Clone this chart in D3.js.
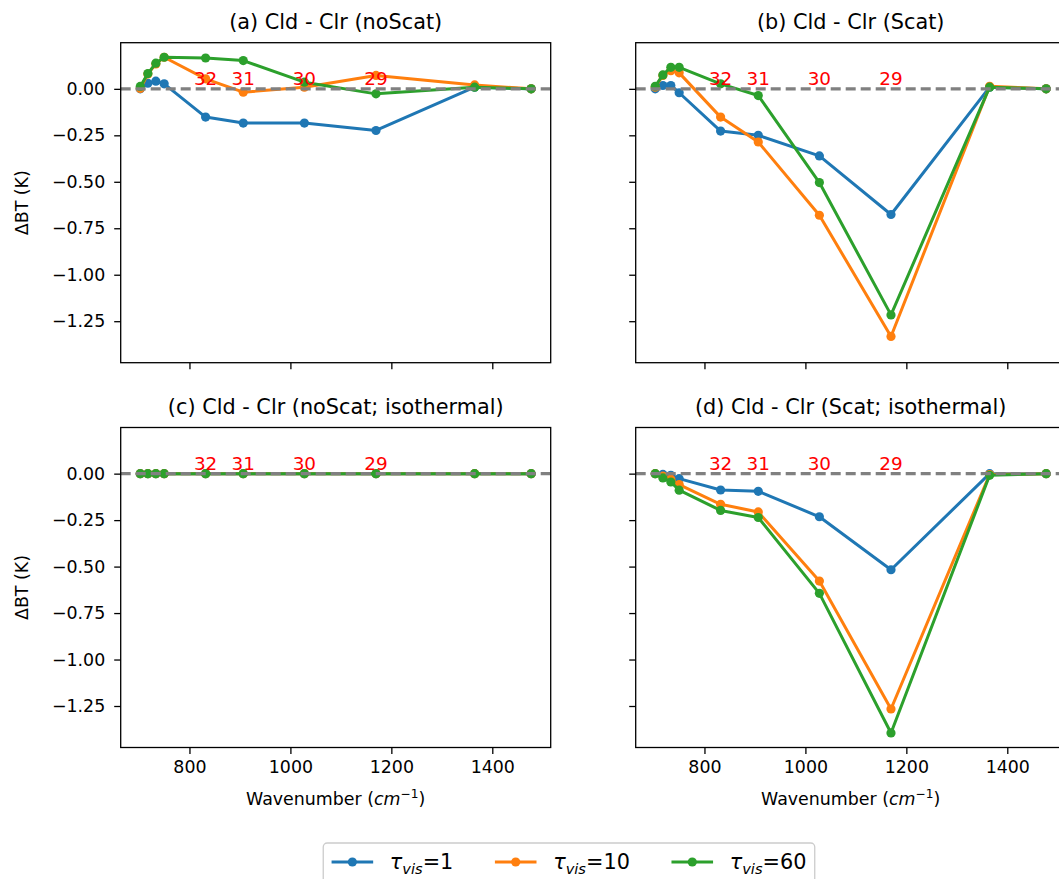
<!DOCTYPE html>
<html>
<head>
<meta charset="utf-8">
<script src="https://cdn.jsdelivr.net/npm/d3@7"></script>
<style>
body { margin: 0; background: #fff; }
text { font-family: "DejaVu Sans", sans-serif; }
</style>
</head>
<body>
<script>
// MODIS band centres (cm-1), bands 36..27
var wavenumber = [702.5, 717.6, 733.4, 749.9, 832.0, 906.6, 1027.7, 1169.6, 1365.0, 1477.0];
var bandNames = ["32", "31", "30", "29"];
var bandWavenumber = [832.0, 906.6, 1027.7, 1169.6];
var tauLabels = ["1", "10", "60"];
var colors = ["#1f77b4", "#ff7f0e", "#2ca02c"];
var titles = ["(a) Cld - Clr (noScat)", "(b) Cld - Clr (Scat)",
              "(c) Cld - Clr (noScat; isothermal)", "(d) Cld - Clr (Scat; isothermal)"];
var yTicks = [0, -0.25, -0.5, -0.75, -1.0, -1.25];
var xTicks = [800, 1000, 1200, 1400];

// delta BT (K) per panel, tau_vis = 1, 10, 60
var a_tau1  = [0.000, 0.030, 0.041, 0.027, -0.152, -0.184, -0.184, -0.224, 0.009, 0.000];
var a_tau10 = [0.002, 0.080, 0.134, 0.170, 0.054, -0.018, 0.009, 0.072, 0.021, 0.000];
var a_tau60 = [0.013, 0.082, 0.138, 0.170, 0.166, 0.152, 0.036, -0.027, 0.009, 0.000];

var b_tau1  = [0.000, 0.018, 0.018, -0.021, -0.227, -0.250, -0.361, -0.676, 0.009, 0.000];
var b_tau10 = [0.009, 0.072, 0.098, 0.086, -0.152, -0.286, -0.680, -1.332, 0.014, 0.000];
var b_tau60 = [0.014, 0.075, 0.116, 0.116, 0.027, -0.036, -0.504, -1.216, 0.009, 0.000];

var c_tau1  = [0, 0, 0, 0, 0, 0, 0, 0, 0, 0];
var c_tau10 = [0, 0, 0, 0, 0, 0, 0, 0, 0, 0];
var c_tau60 = [0, 0, 0, 0, 0, 0, 0, 0, 0, 0];

var d_tau1  = [0.000, -0.004, -0.009, -0.027, -0.088, -0.095, -0.232, -0.517, 0.000, 0.000];
var d_tau10 = [0.000, -0.013, -0.030, -0.059, -0.165, -0.206, -0.578, -1.266, -0.005, 0.000];
var d_tau60 = [0.000, -0.023, -0.045, -0.089, -0.198, -0.236, -0.644, -1.395, -0.009, 0.000];

var panelSeries = [[a_tau1, a_tau10, a_tau60], [b_tau1, b_tau10, b_tau60],
                   [c_tau1, c_tau10, c_tau60], [d_tau1, d_tau10, d_tau60]];

var W = 1059, H = 879;
var pw = 430, ph = 320;
var lefts = [120.7, 635.7], tops = [42.7, 427.5];
var fs = 17.4;

var svg = d3.select("body").append("svg")
    .attr("width", W)
    .attr("height", H);

// shared axes limits, matplotlib style 5% margins
var xExt = d3.extent(wavenumber);
var xPad = (xExt[1] - xExt[0]) * 0.05;
var allY = d3.merge(panelSeries.map(function(s){ return d3.merge(s); }));
var yExt = d3.extent(allY);
var yPad = (yExt[1] - yExt[0]) * 0.05;

var x = d3.scaleLinear().domain([xExt[0] - xPad, xExt[1] + xPad]).range([0, pw]);
var y = d3.scaleLinear().domain([yExt[0] - yPad, yExt[1] + yPad]).range([ph, 0]);

function drawPanel(i){
	var col = i % 2, row = Math.floor(i / 2);
	var g = svg.append("g")
		.attr("transform", "translate(" + lefts[col] + "," + tops[row] + ")");

	var line = d3.line()
		.x(function(d, j){ return x(wavenumber[j]); })
		.y(function(d){ return y(d); });

	panelSeries[i].forEach(function(s, k){
		g.append("path")
			.datum(s)
			.attr("d", line)
			.attr("fill", "none")
			.attr("stroke", colors[k])
			.attr("stroke-width", 3)
			.attr("stroke-linejoin", "round");
		g.selectAll(null)
			.data(s)
			.enter().append("circle")
			.attr("cx", function(d, j){ return x(wavenumber[j]); })
			.attr("cy", function(d){ return y(d); })
			.attr("r", 4.6)
			.attr("fill", colors[k]);
	});

	// zero line on top of data
	g.append("line")
		.attr("x1", 0).attr("x2", pw)
		.attr("y1", y(0)).attr("y2", y(0))
		.attr("stroke", "#808080")
		.attr("stroke-width", 3.4)
		.attr("stroke-dasharray", "10,5");

	// band numbers
	g.selectAll(null)
		.data(bandNames)
		.enter().append("text")
		.attr("x", function(d, j){ return x(bandWavenumber[j]); })
		.attr("y", y(0.022))
		.attr("text-anchor", "middle")
		.attr("fill", "red")
		.style("font-size", "18.4px")
		.text(function(d){ return d; });

	var yAxis = d3.axisLeft(y).tickValues(yTicks).tickSizeOuter(0).tickSize(6.5).tickPadding(9)
		.tickFormat(col == 0 ? d3.format(".2f") : "");
	var xAxis = d3.axisBottom(x).tickValues(xTicks).tickSizeOuter(0).tickSize(6.5).tickPadding(7)
		.tickFormat(row == 1 ? d3.format("d") : "");

	var ya = g.append("g").call(yAxis);
	var xa = g.append("g").attr("transform", "translate(0," + ph + ")").call(xAxis);
	[ya, xa].forEach(function(a){
		a.select(".domain").remove();
		a.selectAll("line").attr("stroke", "#000").attr("stroke-width", 1.3);
		a.selectAll("text").attr("fill", "#000").style("font-size", fs + "px")
			.style("font-family", "DejaVu Sans");
	});

	g.append("rect")
		.attr("width", pw)
		.attr("height", ph)
		.attr("fill", "none")
		.attr("stroke", "#000")
		.attr("stroke-width", 1.3);

	g.append("text")
		.attr("x", pw / 2)
		.attr("y", -14)
		.attr("text-anchor", "middle")
		.style("font-size", "20.8px")
		.text(titles[i]);

	if (col == 0) {
		g.append("text")
			.attr("transform", "translate(" + (28 - lefts[0]) + "," + (ph / 2) + ") rotate(-90)")
			.attr("text-anchor", "middle")
			.style("font-size", fs + "px")
			.text("ΔBT (K)");
	}
	if (row == 1) {
		var t = g.append("text")
			.attr("x", pw / 2)
			.attr("y", ph + 57)
			.attr("text-anchor", "middle")
			.style("font-size", fs + "px");
		t.append("tspan").text("Wavenumber (");
		t.append("tspan").style("font-style", "italic").text("cm");
		t.append("tspan").attr("dy", -7).style("font-size", "12.2px").text("−1");
		t.append("tspan").attr("dy", 7).text(")");
	}
}

for (var i = 0; i < 4; i++) drawPanel(i);

// legend
var lfs = 20.8;
var legend = svg.append("g");
var box = legend.append("rect")
	.attr("y", 843)
	.attr("height", 50)
	.attr("rx", 4)
	.attr("fill", "#fff")
	.attr("stroke", "#cccccc")
	.attr("stroke-width", 1.3);

var cx = 0, rowY = 862;
var items = legend.append("g");
tauLabels.forEach(function(lab, k){
	if (k > 0) cx += 2 * lfs;
	items.append("line")
		.attr("x1", cx).attr("x2", cx + 2 * lfs)
		.attr("y1", rowY).attr("y2", rowY)
		.attr("stroke", colors[k])
		.attr("stroke-width", 3);
	items.append("circle")
		.attr("cx", cx + lfs).attr("cy", rowY).attr("r", 4.6)
		.attr("fill", colors[k]);
	cx += 2 * lfs + 0.8 * lfs;
	var t = items.append("text")
		.attr("x", cx)
		.attr("y", rowY + 7)
		.style("font-size", lfs + "px");
	t.append("tspan").style("font-style", "italic").text("τ");
	t.append("tspan").attr("dy", 5).style("font-style", "italic").style("font-size", "14.6px").text("vis");
	t.append("tspan").attr("dy", -5).text("=" + lab);
	cx += t.node().getComputedTextLength();
});
var bw = cx + 2 * 0.4 * lfs;
var bx = 569 - bw / 2;
box.attr("x", bx).attr("width", bw);
items.attr("transform", "translate(" + (bx + 0.4 * lfs) + ",0)");
</script>
</body>
</html>
